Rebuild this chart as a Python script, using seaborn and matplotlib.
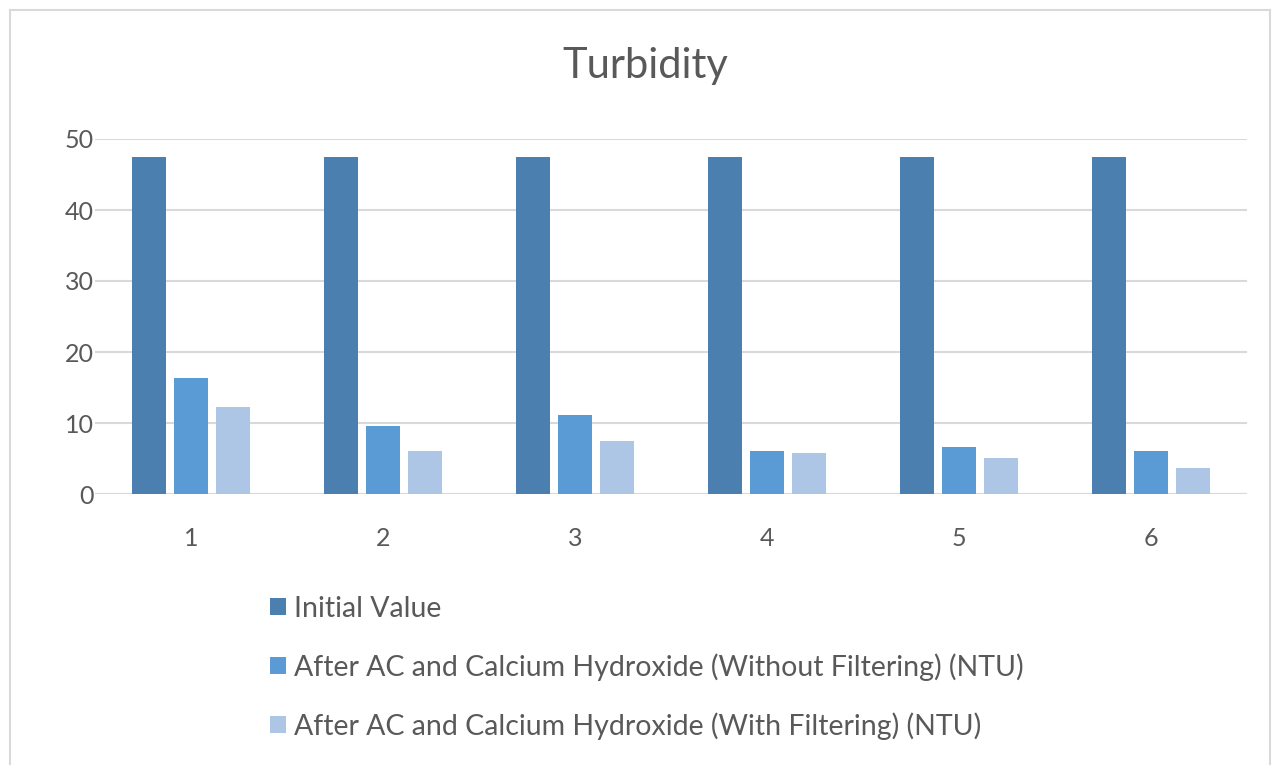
import matplotlib
matplotlib.use("Agg")
import matplotlib.pyplot as plt
import matplotlib.patches as mpatches
import seaborn as sns
import pandas as pd

categories = ["1", "2", "3", "4", "5", "6"]
initial_value = [47.5, 47.5, 47.5, 47.5, 47.5, 47.5]
without_filtering = [16.4, 9.6, 11.1, 6.0, 6.6, 6.0]
with_filtering = [12.25, 6.05, 7.5, 5.8, 5.1, 3.6]
series_names = [
    "Initial Value",
    "After AC and Calcium Hydroxide (Without Filtering) (NTU)",
    "After AC and Calcium Hydroxide (With Filtering) (NTU)",
]
colors = ["#4A7FAF", "#5B9BD5", "#ADC6E5"]

rows = []
for vals, name in zip([initial_value, without_filtering, with_filtering], series_names):
    for c, v in zip(categories, vals):
        rows.append({"cat": c, "value": v, "series": name})
df = pd.DataFrame(rows)

sns.set_theme(style="white")
plt.rcParams["font.family"] = ["Lato", "DejaVu Sans"]
text_color = "#595959"

fig = plt.figure(figsize=(12.83, 7.65), dpi=100)
ax = fig.add_axes([95 / 1283, 1 - 494 / 765, 1152 / 1283, 355 / 765])

sns.barplot(data=df, x="cat", y="value", hue="series", order=categories,
            hue_order=series_names, palette=colors, width=0.66, gap=0.19,
            saturation=1, ax=ax, legend=False, zorder=3, edgecolor="none")

ax.set_xlim(-0.5, 5.5)
ax.set_ylim(0, 50)
ax.set_yticks([0, 10, 20, 30, 40, 50])
ax.yaxis.grid(True, color="#D9D9D9", linewidth=1.5, zorder=0)
ax.set_axisbelow(True)
for s in ax.spines.values():
    s.set_visible(False)
ax.axhline(0, color="#D9D9D9", linewidth=1.5, zorder=1)
ax.set_xlabel("")
ax.set_ylabel("")
ax.tick_params(axis="both", length=0, labelsize=18, labelcolor=text_color)
ax.tick_params(axis="x", pad=24)
ax.tick_params(axis="y", pad=1)

fig.text(645 / 1283, 1 - 66 / 765, "Turbidity", ha="center", va="center",
         fontsize=30, color=text_color)

handles = [mpatches.Patch(facecolor=c, edgecolor="none") for c in colors]
leg = fig.legend(handles, series_names, loc="upper left",
                 bbox_to_anchor=(250 / 1283, 1 - 576 / 765), frameon=False,
                 fontsize=20.5, labelcolor=text_color, handlelength=0.55,
                 handleheight=0.55, handletextpad=0.3, labelspacing=1.1,
                 borderpad=0.2)

border = mpatches.Rectangle((10 / 1283, -0.01), 1260 / 1283, 1 - 10 / 765 + 0.01,
                            transform=fig.transFigure, fill=False,
                            edgecolor="#D9D9D9", linewidth=1.5)
fig.patches.append(border)

fig.savefig("out.png", dpi=100, facecolor="white")
